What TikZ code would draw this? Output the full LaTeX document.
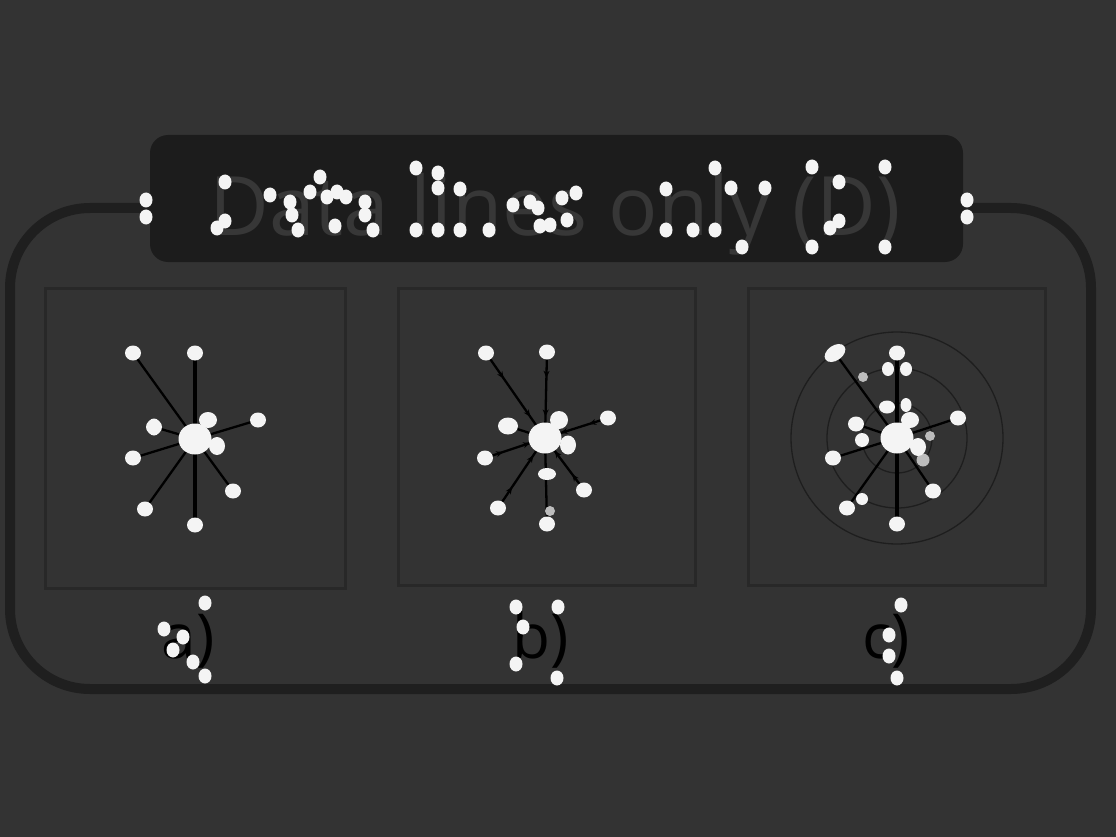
\documentclass[tikz,border=0pt]{standalone}
\usepackage{fontspec}
\setmainfont{Open Sans}
\usetikzlibrary{shapes.geometric,decorations.markings,arrows.meta}
\definecolor{bgc}{HTML}{333333}
\definecolor{titlebg}{HTML}{1C1C1C}
\definecolor{titletext}{HTML}{373737}
\definecolor{framec}{HTML}{1F1F1F}
\definecolor{panelc}{HTML}{282828}
\definecolor{dotc}{HTML}{F4F4F4}
\definecolor{greydot}{HTML}{BDBDBD}
\definecolor{ringc}{HTML}{1E1E1E}
\begin{document}
\begin{tikzpicture}[x=1pt,y=-1pt,
  panel/.style={draw=panelc, line width=3pt, minimum width=#1, minimum height=#1, inner sep=0pt},
  gdot/.style={ellipse, fill=dotc, minimum width=16pt, minimum height=15pt, inner sep=0pt},
  hub/.style={ellipse, fill=dotc, minimum width=33pt, minimum height=31pt, inner sep=0pt},
  smalldot/.style={circle, fill=greydot, minimum size=10pt, inner sep=0pt},
  spoke/.style={black, line width=2.3pt},
  spine/.style={black, line width=4pt},
  marked/.style={spoke, postaction={decorate}, decoration={markings,
     mark=at position 0.3 with {\arrow{Stealth[length=7pt,width=6pt]}},
     mark=at position 0.75 with {\arrow{Stealth[length=7pt,width=6pt]}}}},
  ring/.style={draw=ringc, line width=1.3pt},
  lbl/.style={font=\fontsize{62}{62}\selectfont, text=black, anchor=base, inner sep=0pt}
]
\fill[bgc] (0,0) rectangle (1116,837);
\useasboundingbox (0,0) rectangle (1116,837);

% outer frame
\draw[framec, line width=10pt, rounded corners=80pt] (10,208) rectangle (1091,689);

% title
\node[fill=titlebg, rounded corners=18pt, minimum width=813pt, minimum height=127pt, inner sep=0pt] (title) at (556.5,198.5) {};
\node[text=titletext, font=\fontsize{82}{82}\selectfont, anchor=base, inner sep=0pt] (titletxt) at (555,235) {Data lines only (D)};

% panels
\node[panel=300pt] (pa) at (195,438) {};
\node[panel=297pt] (pb) at (547,436.5) {};
\node[panel=297pt] (pc) at (896.5,436.5) {};

% ---------- panel a ----------
\coordinate (ca) at (195,439);
\coordinate (a1) at (133,353); \coordinate (a2) at (195,353);
\coordinate (a3) at (258,420); \coordinate (a4) at (154,427);
\coordinate (a5) at (133,458); \coordinate (a6) at (145,509);
\coordinate (a7) at (195,525); \coordinate (a8) at (233,491);
\draw[spine] (a2) -- (a7);
\foreach \n in {a1,a3,a4,a5,a6,a8} \draw[spoke] (ca) -- (\n);
\foreach \n in {a1,a2,a3,a4,a5,a6,a7,a8} \node[gdot] at (\n) {};
\node[gdot, minimum width=14pt, minimum height=17pt] at (a4) {};
\node[gdot, minimum width=18pt, minimum height=16pt] at (208,420) {};
\node[gdot, minimum width=16pt, minimum height=18pt] at (217,446) {};
\node[hub] (hubA) at (ca) {};

% ---------- panel b ----------
\coordinate (cb) at (545,438);
\coordinate (b1) at (486,353); \coordinate (b2) at (547,352);
\coordinate (b3) at (608,418); \coordinate (b4) at (508,426);
\coordinate (b5) at (485,458); \coordinate (b6) at (498,508);
\coordinate (b7) at (547,524); \coordinate (b8) at (584,490);
\draw[marked] (b2) -- (cb);
\draw[spoke] (cb) -- (b7);
\foreach \n in {b1,b3,b4,b5,b6,b8} \draw[marked] (\n) -- (cb);
\foreach \n in {b1,b2,b3,b5,b6,b7,b8} \node[gdot] at (\n) {};
\node[gdot, minimum width=20pt, minimum height=17pt] at (b4) {};
\node[gdot, minimum width=18pt, minimum height=18pt] at (559,420) {};
\node[gdot, minimum width=16pt, minimum height=19pt] at (568,445) {};
\node[gdot, minimum width=18pt, minimum height=12pt] (b11) at (547,474) {};
\node[smalldot] (b12) at (550,511) {};
\node[hub] (hubB) at (cb) {};

% ---------- panel c ----------
\coordinate (cc) at (897,438);
\draw[ring] (cc) circle (106pt);
\draw[ring] (cc) circle (70pt);
\draw[ring] (cc) circle (35pt);
\coordinate (c1) at (835,353); \coordinate (c2) at (897,353);
\coordinate (c3) at (958,418); \coordinate (c4) at (856,424);
\coordinate (c5) at (833,458); \coordinate (c6) at (847,508);
\coordinate (c7) at (897,524); \coordinate (c8) at (933,491);
\draw[spine] (c2) -- (c7);
\foreach \n in {c1,c3,c4,c5,c6,c8} \draw[spoke] (cc) -- (\n);
\foreach \n in {c2,c3,c4,c5,c6,c7,c8} \node[gdot] at (\n) {};
\node[gdot, minimum width=23pt, minimum height=15pt, rotate=35] at (c1) {};
\node[gdot, minimum width=12pt, minimum height=14pt] at (888,369) {};
\node[gdot, minimum width=12pt, minimum height=14pt] at (906,369) {};
\node[gdot, minimum width=16pt, minimum height=13pt] at (887,407) {};
\node[gdot, minimum width=11pt, minimum height=14pt] at (906,405) {};
\node[gdot, minimum width=14pt, minimum height=14pt] at (862,440) {};
\node[gdot, minimum width=12pt, minimum height=12pt] at (862,499) {};
\node[smalldot] at (863,377) {};
\node[smalldot] at (930,436) {};
\node[smalldot, minimum size=13pt] at (923,460) {};
\node[gdot, minimum width=18pt, minimum height=16pt] at (910,420) {};
\node[gdot, minimum width=16pt, minimum height=18pt] at (918,447) {};
\node[hub] (hubC) at (cc) {};

% ---------- labels ----------
\node[lbl] (la) at (188,658) {a)};
\node[lbl] (lb) at (541,658) {b)};
\node[lbl] (lc) at (886,658) {c)};

% ---------- white marks on title, labels and frame ----------
\foreach \x/\y in {
  225/182, 225/221, 217/228,
  270/195, 290/202, 292/215, 298/230,
  320/177, 310/192, 327/197, 337/192, 346/197, 335/226,
  365/202, 365/215, 373/230,
  416/168, 416/230, 438/173, 438/188, 438/230, 460/189, 460/230, 489/230,
  513/205, 530/202, 538/208, 540/226, 550/225, 562/198, 576/193, 567/220,
  666/189, 666/230, 693/230, 715/168, 715/230, 731/188, 765/188, 742/247,
  812/167, 812/247, 839/182, 839/221, 830/228, 885/167, 885/247,
  205/603, 164/629, 183/637, 173/650, 193/662, 205/676,
  516/607, 523/627, 516/664, 558/607, 557/678,
  901/605, 889/635, 889/656, 897/678,
  146/200, 146/217, 967/200, 967/217}
  \fill[dotc] (\x,\y) ellipse [x radius=6.5pt, y radius=7.5pt];
\end{tikzpicture}
\end{document}
